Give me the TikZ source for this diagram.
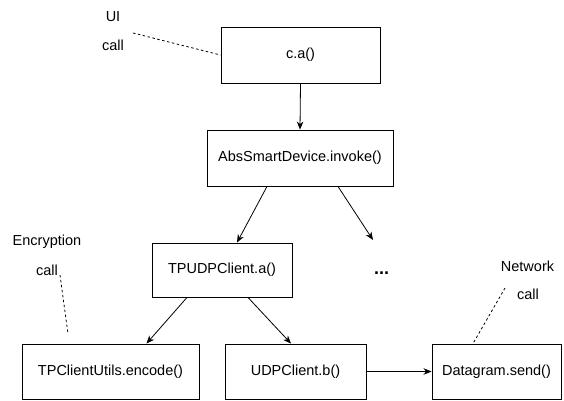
\documentclass[tikz,border=0pt]{standalone}
\usepackage{fontspec}
\setmainfont{Liberation Sans}
\usetikzlibrary{arrows.meta,calc}
\begin{document}
\begin{tikzpicture}[x=1pt,y=-1pt,
  font=\fontsize{14.5}{17}\selectfont,
  box/.style={draw,line width=0.9pt,inner sep=0pt,anchor=center},
  arr/.style={line width=0.8pt,-{Stealth[length=8pt,width=6.5pt,inset=2.5pt]}},
  note/.style={line width=0.8pt,dash pattern=on 2.5pt off 2.5pt},
  lbl/.style={inner sep=0pt,anchor=center}]
\path[use as bounding box] (0,0) rectangle (564,400);
\node[box,minimum width=159pt,minimum height=56pt] (ca) at (300.5,55) {c.a()};
\node[box,minimum width=186pt,minimum height=56pt] (abs) at (300,158) {AbsSmartDevice.invoke()};
\node[box,minimum width=140pt,minimum height=54pt] (tpudp) at (222,270) {TPUDPClient.a()};
\node[box,minimum width=177pt,minimum height=55pt] (utils) at (110.5,371.5) {TPClientUtils.encode()};
\node[box,minimum width=141pt,minimum height=55pt] (udpb) at (295.5,371.5) {UDPClient.b()};
\node[box,minimum width=129pt,minimum height=55pt] (dgram) at (496.5,371.5) {Datagram.send()};
\node[lbl,font=\fontsize{18}{20}\selectfont\bfseries] (dots) at (381.5,273) {...};
\coordinate (dotsin) at (373,240);

\node[lbl] (ui) at (113,17) {UI};
\node[lbl] (uicall) at (113,45) {call};
\node[lbl] (enc) at (47,242) {Encryption};
\node[lbl] (enccall) at (47,270) {call};
\node[lbl] (net) at (527.5,266) {Network};
\node[lbl] (netcall) at (528,294) {call};

\coordinate (uiend) at (133,33);
\coordinate (enctop) at (60,275);
\coordinate (encbot) at (68,334);
\coordinate (nettop) at (505,288);

\draw[arr] (ca.south) -- (abs.north);
\draw[arr] ([xshift=-33pt]abs.south) -- ([xshift=15pt]tpudp.north);
\draw[arr] ([xshift=38pt]abs.south) -- (dotsin);
\draw[arr] ([xshift=-35pt]tpudp.south) -- ([xshift=36pt]utils.north);
\draw[arr] ([xshift=26pt]tpudp.south) -- ([xshift=-4.5pt]udpb.north);
\draw[arr] (udpb.east) -- (dgram.west);

\draw[note] (uiend) -- (ca.west);
\draw[note] (enctop) -- (encbot);
\draw[note] (nettop) -- ([xshift=-23.5pt]dgram.north);
\end{tikzpicture}
\end{document}
